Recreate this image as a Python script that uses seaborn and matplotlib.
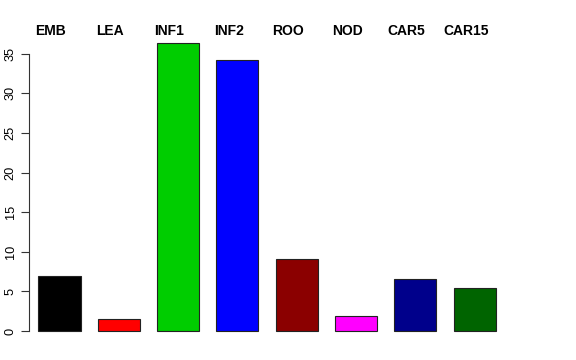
import matplotlib
matplotlib.use("Agg")
import matplotlib.pyplot as plt
import matplotlib.transforms as mtransforms
import seaborn as sns
import pandas as pd

categories = ["EMB", "LEA", "INF1", "INF2", "ROO", "NOD", "CAR5", "CAR15"]
values = [6.9, 1.55, 36.4, 34.2, 9.1, 1.93, 6.6, 5.4]
colors = ["#000000", "#FF0000", "#00CD00", "#0000FF", "#8B0000", "#FF00FF", "#00008B", "#006400"]
yticks = [0, 5, 10, 15, 20, 25, 30, 35]

sns.set_theme(style="white")
plt.rcParams["font.family"] = ["Liberation Sans", "DejaVu Sans"]

df = pd.DataFrame({"cat": categories, "val": values})

fig = plt.figure(figsize=(5.76, 3.6), dpi=100)
ax = fig.add_axes([29.3 / 576, 1 - 342.5 / 360, 475.5 / 576, (342.5 - 31.2) / 360])

sns.barplot(data=df, x="cat", y="val", hue="cat", palette=colors, legend=False,
            order=categories, hue_order=categories, width=0.71, saturation=1,
            edgecolor="#222222", linewidth=0.8, ax=ax)

ax.set_xlim(-0.509, len(categories) - 1 + 0.509)
ax.set_ylim(-1.456, 37.856)
ax.set_xlabel("")
ax.set_ylabel("")
ax.set_xticks([])
ax.set_yticks(yticks)
ax.set_yticklabels([str(t) for t in yticks], rotation=90, va="center", fontsize=9.2)
ax.tick_params(axis="y", direction="out", length=6, width=0.8, color="#333333",
               pad=3, left=True, labelcolor="black")
for s in ["top", "right", "bottom"]:
    ax.spines[s].set_visible(False)
ax.spines["left"].set_bounds(0, 35)
ax.spines["left"].set_color("#333333")
ax.spines["left"].set_linewidth(0.8)
ax.set_facecolor("white")

trans = mtransforms.blended_transform_factory(ax.transData, fig.transFigure)
for i, c in enumerate(categories):
    ax.text(i - 0.15, 1 - 35 / 360, c, transform=trans, ha="center", va="baseline",
            fontsize=10, fontweight="bold", color="black")

fig.savefig("out.png", dpi=100, facecolor="white")
